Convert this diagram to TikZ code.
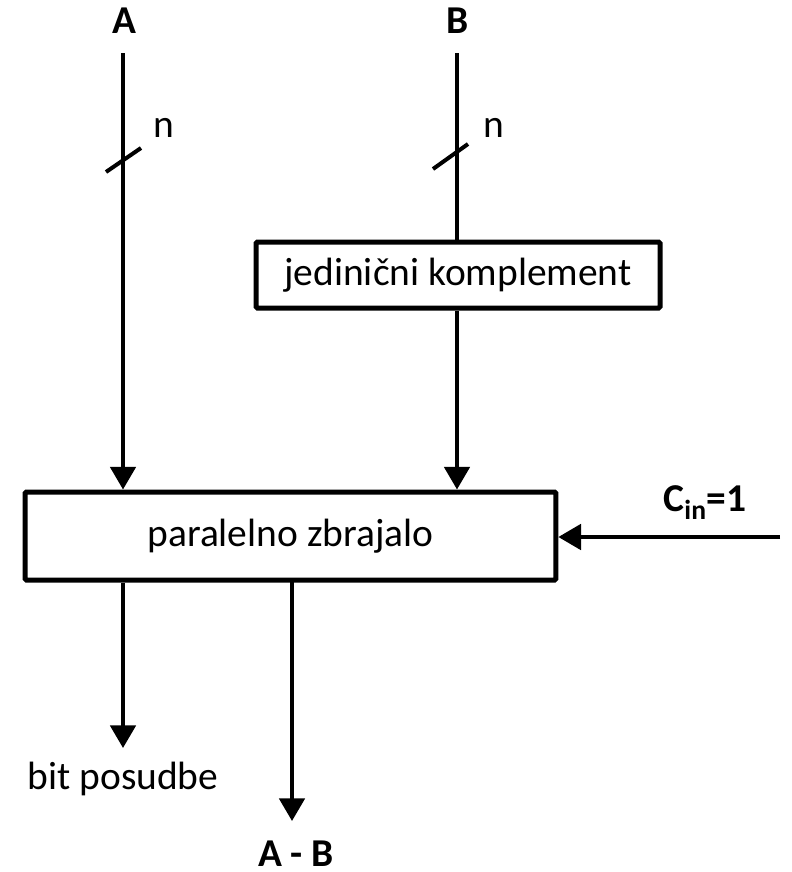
\documentclass[tikz,border=0pt]{standalone}
\usepackage{fontspec}
\setmainfont{Carlito}
\usetikzlibrary{arrows.meta, positioning, calc}

\begin{document}
\begin{tikzpicture}[
  x=0.75pt, y=-0.75pt,
  font=\fontsize{29.6}{34}\selectfont,
  block/.style={draw, line width=3.75pt, rounded corners=1pt, inner sep=0pt},
  wire/.style={line width=3pt},
  arr/.style={wire, -{Triangle[length=17pt, width=19pt]}},
  lbl/.style={inner sep=0pt, font=\fontsize{29.6}{34}\selectfont\bfseries}
]
\useasboundingbox (0,0) rectangle (792,872);

% inputs
\node[lbl] (inA) at (124,21) {A};
\node[lbl] (inB) at (458,21) {B};
\coordinate (topA) at (123,53);
\coordinate (topB) at (457,53);

% blocks (sizes in pt: the picture runs at 0.75pt per unit)
\node[block, minimum width=303pt, minimum height=49.5pt] (jk)  at (458,275)   {jedinični komplement};
\node[block, minimum width=398pt, minimum height=66pt]   (add) at (290.5,536) {paralelno zbrajalo};

% carry in
\node[lbl] (cin) at (705,503) {C\textsubscript{in}=1};
\coordinate (cinR) at (780,537);

% outputs
\node[inner sep=0pt] (borrow) at (123,779) {bit posudbe};
\node[lbl] (diff) at (296,854) {A - B};

% connectors
\draw[arr]  (topA) -- (topA |- add.north);
\draw[wire] (topB) -- (topB |- jk.north);
\draw[arr]  (topB |- jk.south) -- (topB |- add.north);
\draw[arr]  (cinR) -- (cinR -| add.east);
\draw[arr]  (add.south -| borrow) -- (123,748);
\draw[arr]  (292,582) -- (292,821);

% bus width marks
\draw[wire] (106,172) -- (141,148);
\draw[wire] (433,169) -- (468,144);
\node[inner sep=0pt] (nA) at (164,128) {n};
\node[inner sep=0pt] (nB) at (494,128) {n};
\end{tikzpicture}
\end{document}
